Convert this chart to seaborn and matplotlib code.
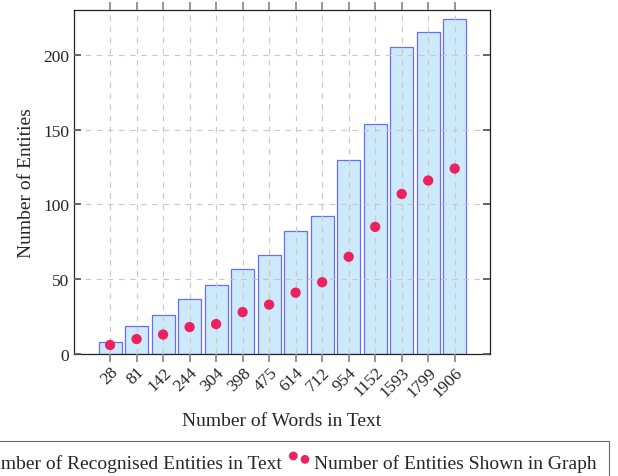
import numpy as np
import matplotlib
matplotlib.use("Agg")
import matplotlib.pyplot as plt
import seaborn as sns

# Data
words = ["28", "81", "142", "244", "304", "398", "475", "614",
         "712", "954", "1152", "1593", "1799", "1906"]
recognised = [8, 19, 26, 37, 46, 57, 66, 82, 92, 130, 154, 205, 215, 224]
shown = [6, 10, 13, 18, 20, 28, 33, 41, 48, 65, 85, 107, 116, 124]

sns.set_theme(style="ticks")
plt.rcParams['font.family'] = ['Liberation Serif', 'DejaVu Serif']

fig = plt.figure(figsize=(6.18, 4.77), dpi=100)
ax = fig.add_axes([74 / 618, 1 - 355 / 477, 416 / 618, 344 / 477])

sns.barplot(x=words, y=recognised, order=words, ax=ax, width=0.87,
            color="#cdeafa", saturation=1, edgecolor="#6b6bff",
            linewidth=0.9, label="Number of Recognised Entities in Text")

sns.scatterplot(x=np.arange(len(words)), y=shown, ax=ax, s=55,
                color="#ec2260", edgecolor="none", zorder=3,
                label="Number of Entities Shown in Graph")

ax.set_xlim(-1.36, len(words) - 1 + 1.33)
ax.set_ylim(0, 230)
ax.set_yticks([0, 50, 100, 150, 200])
ax.set_xticks(np.arange(len(words)))
ax.set_xticklabels(words, rotation=45, ha="right", rotation_mode="anchor")

ax.set_axisbelow(False)
ax.grid(True, color="#c8c8c8", linestyle=(0, (5, 5)), linewidth=0.8)

ax.tick_params(axis="x", direction="out", top=True, bottom=True,
               length=6, color="#888888", labelsize=12.5, pad=1)
ax.tick_params(axis="y", direction="in", left=True, right=True,
               length=5, color="#555555", labelsize=12.5)
for s in ax.spines.values():
    s.set_color("#222222")
    s.set_linewidth(0.9)

ax.set_xlabel("Number of Words in Text", fontsize=14, labelpad=9)
ax.set_ylabel("Number of Entities", fontsize=14, labelpad=6)

if ax.legend_:
    ax.legend_.remove()
handles, labels = ax.get_legend_handles_labels()
order = [labels.index("Number of Recognised Entities in Text"),
         labels.index("Number of Entities Shown in Graph")]
leg = fig.legend([handles[i] for i in order], [labels[i] for i in order],
                 loc="upper right", ncol=2,
                 bbox_to_anchor=(609 / 618, 1 - 442 / 477),
                 borderaxespad=0,
                 fontsize=14, frameon=True, fancybox=False,
                 edgecolor="#444444", borderpad=0.65, handlelength=1.2,
                 handletextpad=0.15, columnspacing=0.3,
                 scatterpoints=2, scatteryoffsets=[0.85, 0.6],
                 markerscale=0.85)
leg.get_frame().set_linewidth(0.8)

plt.savefig("out.png", dpi=100)
plt.close()
